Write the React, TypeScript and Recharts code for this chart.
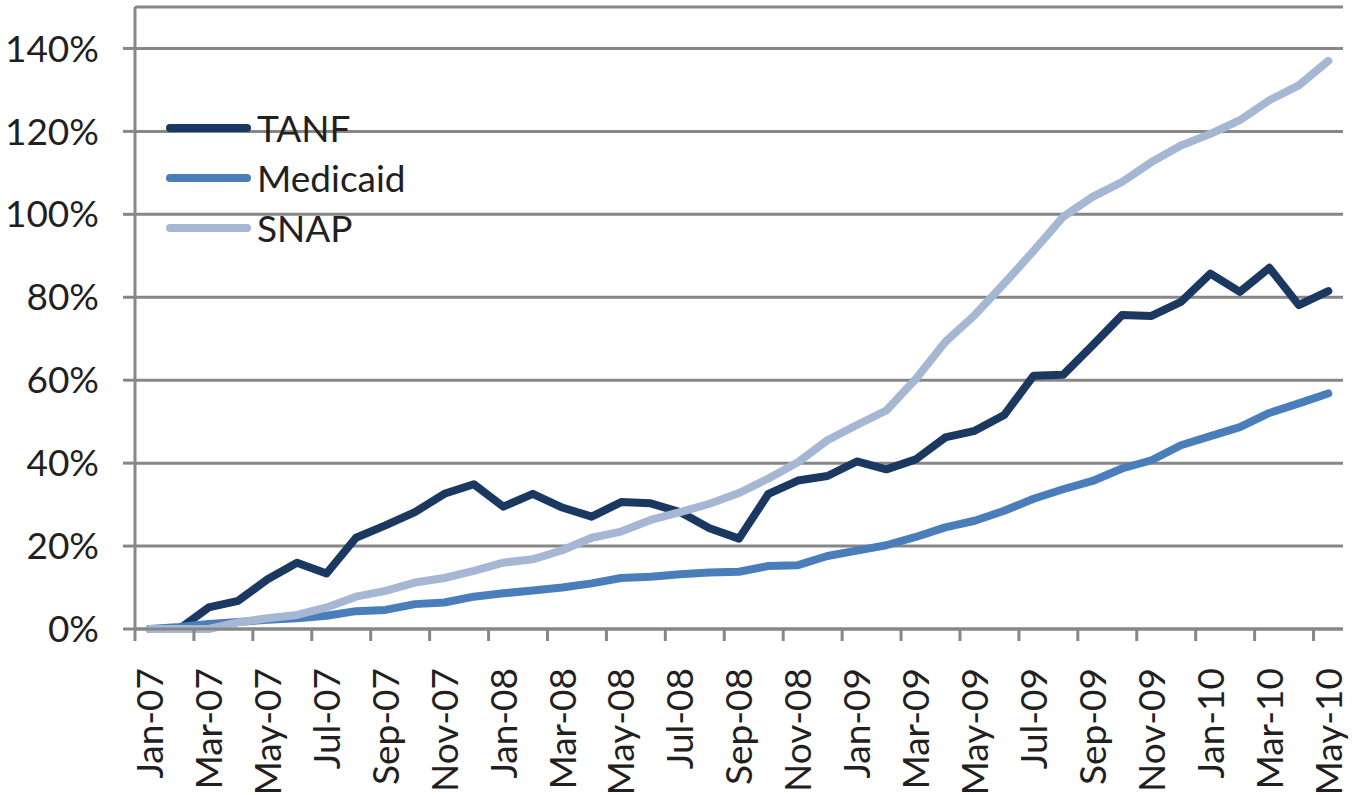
import * as React from 'react';
import { LineChart, Line, XAxis, YAxis, CartesianGrid, Legend } from 'recharts';

const months = [
  'Jan-07', 'Feb-07', 'Mar-07', 'Apr-07', 'May-07', 'Jun-07', 'Jul-07', 'Aug-07', 'Sep-07', 'Oct-07', 'Nov-07', 'Dec-07',
  'Jan-08', 'Feb-08', 'Mar-08', 'Apr-08', 'May-08', 'Jun-08', 'Jul-08', 'Aug-08', 'Sep-08', 'Oct-08', 'Nov-08', 'Dec-08',
  'Jan-09', 'Feb-09', 'Mar-09', 'Apr-09', 'May-09', 'Jun-09', 'Jul-09', 'Aug-09', 'Sep-09', 'Oct-09', 'Nov-09', 'Dec-09',
  'Jan-10', 'Feb-10', 'Mar-10', 'Apr-10', 'May-10',
];

const tanf = [
  0, 0, 5.2, 6.8, 12.0, 16.0, 13.4, 22.0, 25.0, 28.2, 32.6, 34.9,
  29.5, 32.6, 29.3, 27.1, 30.6, 30.3, 28.2, 24.3, 21.8, 32.6, 35.8, 36.9,
  40.4, 38.5, 40.9, 46.2, 47.8, 51.6, 61.1, 61.3, 68.4, 75.7, 75.5, 78.9,
  85.7, 81.3, 87.1, 78.1, 81.5,
];

const medicaid = [
  0, 0.5, 1.2, 1.7, 2.2, 2.6, 3.2, 4.3, 4.6, 6.0, 6.4, 7.8,
  8.6, 9.3, 10.0, 11.0, 12.3, 12.6, 13.2, 13.6, 13.8, 15.2, 15.4, 17.6,
  18.9, 20.2, 22.2, 24.5, 26.1, 28.5, 31.4, 33.7, 35.7, 38.7, 40.7, 44.3,
  46.5, 48.7, 52.1, 54.4, 56.8,
];

const snap = [
  0, 0, 0, 1.6, 2.6, 3.4, 5.2, 7.8, 9.2, 11.2, 12.3, 14.0,
  16.0, 16.8, 19.0, 22.0, 23.5, 26.3, 28.2, 30.2, 32.8, 36.3, 40.2, 45.5,
  49.2, 52.7, 60.3, 69.2, 75.7, 83.3, 91.2, 99.4, 104.2, 107.8, 112.6, 116.6,
  119.4, 122.7, 127.5, 131.1, 137.0,
];

const seriesOrder = ['TANF', 'Medicaid', 'SNAP'];
const yTicks = [0, 20, 40, 60, 80, 100, 120, 140];

const data = months.map((m, i) => ({ month: m, TANF: tanf[i], Medicaid: medicaid[i], SNAP: snap[i] }));

const FONT = 'Lato, "Open Sans", sans-serif';
const TEXT = '#231f20';
const AXIS = '#878787';
const PLOT_LEFT = 135;
const PLOT_RIGHT = 1343;
const BAND = (PLOT_RIGHT - PLOT_LEFT) / months.length;

function MonthTick(props: any) {
  const { x, y, payload } = props;
  const bx = x - BAND / 2;
  const ty = y + 39;
  return (
    <g>
      <line x1={bx} y1={y} x2={bx} y2={y + 12} stroke={AXIS} strokeWidth={3} />
      <text
        x={x}
        y={ty}
        transform={`rotate(-90, ${x}, ${ty})`}
        textAnchor="end"
        dy="0.36em"
        fontSize={37}
        fontFamily={FONT}
        fill={TEXT}
      >
        {payload.value}
      </text>
    </g>
  );
}

function LegendBox(props: any) {
  const items = [...(props.payload || [])].sort(
    (a: any, b: any) => seriesOrder.indexOf(a.value) - seriesOrder.indexOf(b.value)
  );
  return (
    <div style={{ position: 'absolute', left: 0, top: 0, width: 400 }}>
      {items.map((it: any) => (
        <div key={it.value} style={{ height: 50, display: 'flex', alignItems: 'center' }}>
          <div style={{ width: 85, height: 8, borderRadius: 4, background: it.color }} />
          <span style={{ marginLeft: 6, fontSize: 37, fontFamily: FONT, color: TEXT, lineHeight: '50px' }}>
            {it.value}
          </span>
        </div>
      ))}
    </div>
  );
}

export default function App() {
  return (
    <div style={{ position: 'absolute', left: 0, top: 0, background: '#fff' }}>
      <LineChart
        width={1361}
        height={795}
        data={data}
        margin={{ top: 7, right: 1361 - PLOT_RIGHT, bottom: 0, left: 0 }}
      >
        <CartesianGrid vertical={false} stroke={AXIS} strokeWidth={3} />
        <XAxis
          dataKey="month"
          scale="band"
          interval={1}
          height={166}
          tickSize={0}
          tickMargin={0}
          tickLine={false}
          axisLine={{ stroke: AXIS, strokeWidth: 3 }}
          tick={<MonthTick />}
        />
        <YAxis
          width={PLOT_LEFT}
          domain={[0, 150]}
          ticks={yTicks}
          interval={0}
          tickFormatter={(v: number) => `${v}%`}
          tickSize={12}
          tickMargin={24}
          tickLine={{ stroke: AXIS, strokeWidth: 3 }}
          axisLine={{ stroke: AXIS, strokeWidth: 3 }}
          tick={{ fontSize: 37, fontFamily: FONT, fill: TEXT }}
        />
        <Legend
          layout="vertical"
          verticalAlign="top"
          align="left"
          content={<LegendBox />}
          wrapperStyle={{ position: 'absolute', left: 166, top: 103, width: 0, height: 0, overflow: 'visible' }}
        />
        <Line type="linear" dataKey="TANF" stroke="#1a3860" strokeWidth={8} dot={false} strokeLinejoin="round" strokeLinecap="round" isAnimationActive={false} />
        <Line type="linear" dataKey="Medicaid" stroke="#4a7ebb" strokeWidth={8} dot={false} strokeLinejoin="round" strokeLinecap="round" isAnimationActive={false} />
        <Line type="linear" dataKey="SNAP" stroke="#a6b7d4" strokeWidth={8} dot={false} strokeLinejoin="round" strokeLinecap="round" isAnimationActive={false} />
      </LineChart>
    </div>
  );
}
